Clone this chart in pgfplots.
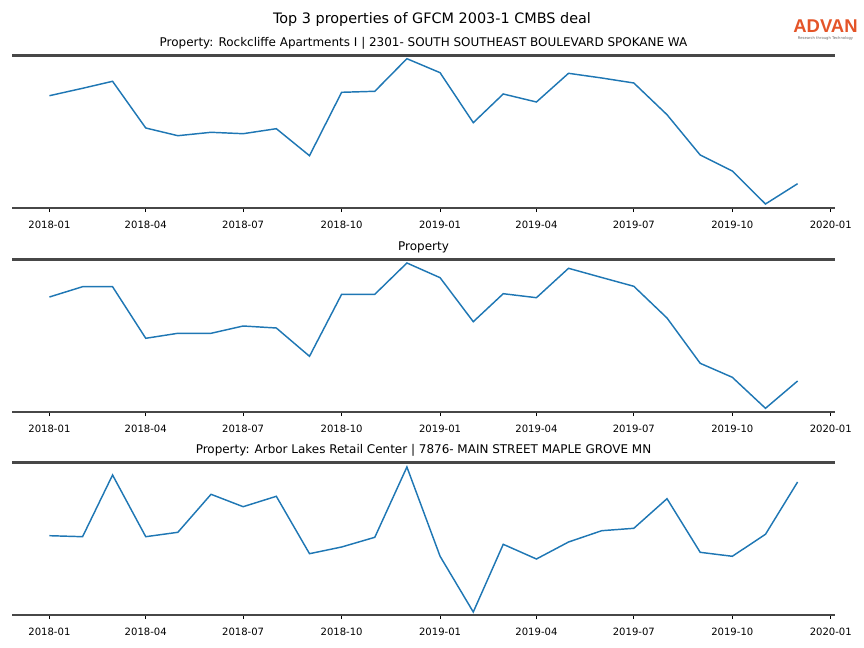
\documentclass[border=0pt]{standalone}
\usepackage{fontspec}
\setmainfont{DejaVu Sans}
\newfontfamily\logofont{Liberation Sans}
\usepackage{pgfplots}
\usepackage{pgfplotstable}
\pgfplotsset{compat=1.18}

\definecolor{mplblue}{HTML}{1F77B4}
\definecolor{spine}{HTML}{474747}
\definecolor{advan}{RGB}{228,84,40}

% day offsets from 2018-01-01; values are heights above each panel's floor
\pgfplotstableread{
day  rock   prop   arbor
0    112.3  115.0  79.3
31   119.7  125.3  78.3
59   126.7  125.3  140.0
90   80.0   73.7   78.3
120  72.3   78.7   82.7
151  75.7   78.7   120.7
181  74.3   86.0   108.3
212  79.3   84.0   118.7
243  52.3   55.7   61.3
273  115.7  117.7  68.0
304  116.7  117.7  77.7
334  149.3  149.0  148.0
365  135.3  134.3  58.7
396  85.3   90.3   3.0
424  114.0  118.3  70.7
455  106.0  114.3  56.0
485  134.7  143.7  73.0
516  130.0  134.5  84.3
546  125.0  125.7  86.7
577  93.3   94.0   116.3
608  53.0   48.7   62.7
638  37.0   34.7   58.7
669  4.0    3.7    80.7
699  24.3   31.0   133.0
}\props

\pgfplotsset{
  panel/.style={
    scale only axis,
    width=592.56pt, height=109.8pt,
    anchor=south west,
    xmin=-34.95, xmax=733.95,
    ymin=0, ymax=152.5,
    axis line style={draw=none},
    ytick=\empty,
    xtick={0,90,181,273,365,455,546,638,730},
    xticklabels={2018-01,2018-04,2018-07,2018-10,2019-01,2019-04,2019-07,2019-10,2020-01},
    xtick pos=bottom,
    tick align=outside,
    major tick length=3pt,
    tick style={black, line width=0.55pt},
    xticklabel style={font=\fontsize{7.24}{8}\selectfont, yshift=-2.6pt},
    title style={font=\fontsize{8.62}{10}\selectfont, anchor=base, at={(0.5,1)}, yshift=0.4pt},
    clip=false,
    after end axis/.code={
      \draw[spine, line width=1.45pt] (rel axis cs:0,0) -- (rel axis cs:1,0);
      \draw[spine, line width=1.45pt] (rel axis cs:0,1) -- (rel axis cs:1,1);
    },
  },
  pline/.style={mplblue, line width=1.05pt, no marks},
}

\begin{document}
\begin{tikzpicture}
\path (0,0) rectangle (622.08pt,466.56pt);
\node[font=\fontsize{10.37}{12}\selectfont, anchor=base] at (311.04pt,449.28pt)
  {Top 3 properties of GFCM 2003-1 CMBS deal};
\node[font=\logofont\bfseries\fontsize{13.3}{14}\selectfont, text=advan, anchor=base, inner sep=0pt]
  at (594.36pt,443.5pt) {ADVAN};
\node[font=\fontsize{2.7}{3}\selectfont, text=black!60, inner sep=0pt]
  at (594.36pt,439.0pt) {Research through Technology};

\begin{axis}[panel, at={(8.64pt,316.8pt)},
  title={Property: Rockcliffe Apartments I | 2301- SOUTH SOUTHEAST BOULEVARD SPOKANE WA}]
\addplot[pline] table[x=day, y=rock] {\props};
\end{axis}

\begin{axis}[panel, at={(8.64pt,169.92pt)}, title={Property}]
\addplot[pline] table[x=day, y=prop] {\props};
\end{axis}

\begin{axis}[panel, at={(8.64pt,23.76pt)},
  title={Property: Arbor Lakes Retail Center | 7876- MAIN STREET MAPLE GROVE MN}]
\addplot[pline] table[x=day, y=arbor] {\props};
\end{axis}
\end{tikzpicture}
\end{document}
